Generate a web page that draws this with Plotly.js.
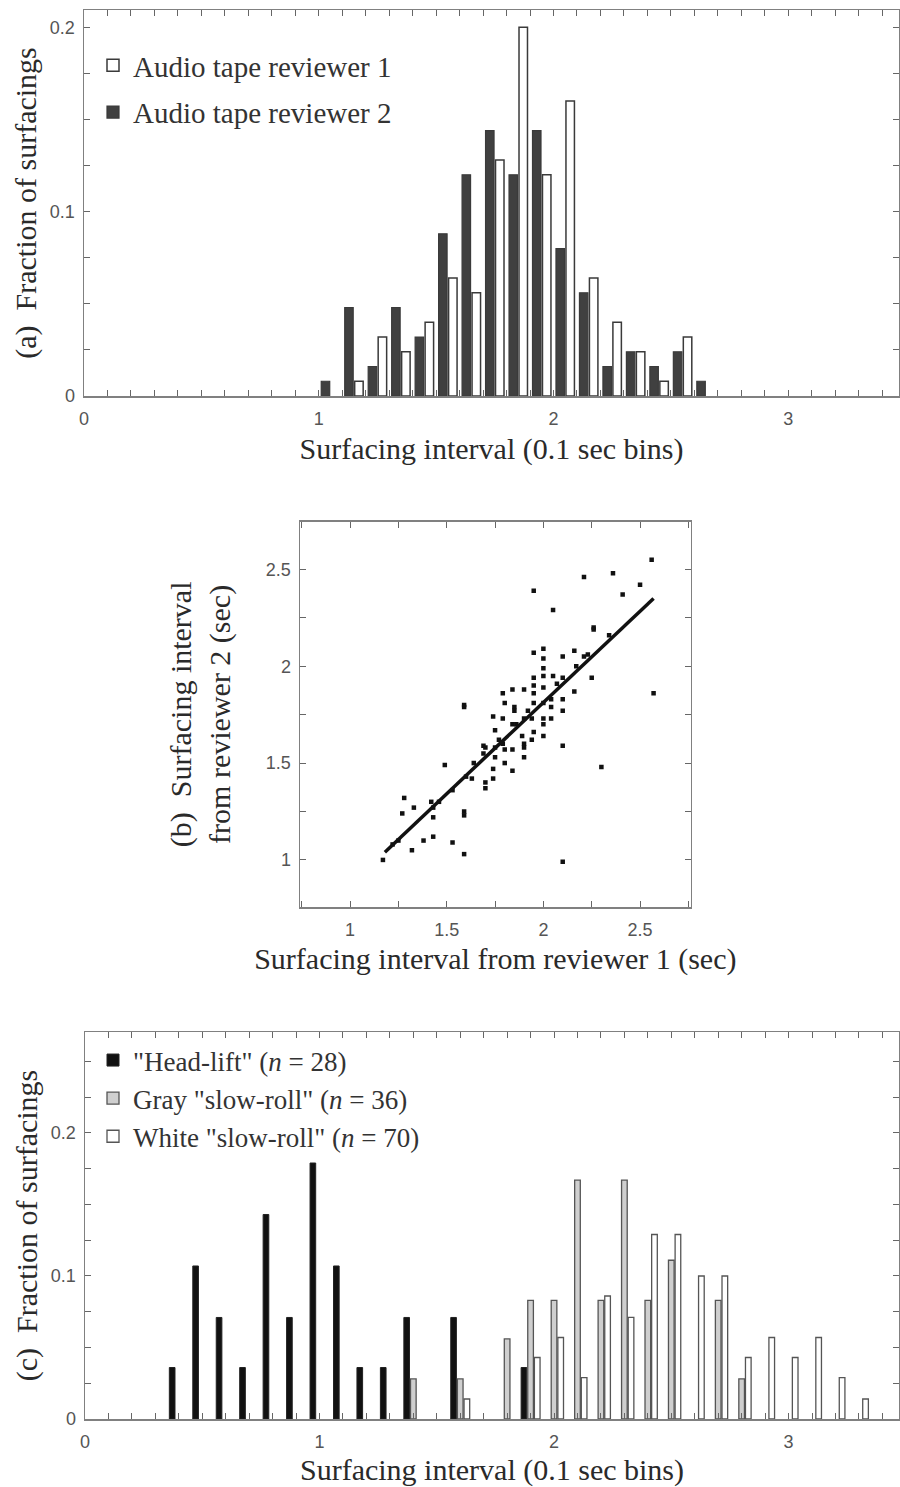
<!DOCTYPE html>
<html>
<head>
<meta charset="utf-8">
<script src="https://cdn.plot.ly/plotly-3.0.1.min.js"></script>
<style>html,body{margin:0;padding:0;background:#fff;}#chart{width:900px;height:1487px;}</style>
</head>
<body>
<div id="chart"></div>
<script>
// ---------- Panel (a): histogram of surfacing intervals, two reviewers ----------
const binsR1 = [1.15,1.25,1.35,1.45,1.55,1.65,1.75,1.85,1.95,2.05,2.15,2.25,2.35,2.45,2.55];
const fracR1 = [0.008,0.032,0.024,0.040,0.064,0.056,0.128,0.200,0.120,0.160,0.064,0.040,0.024,0.008,0.032];
const binsR2 = [1.05,1.15,1.25,1.35,1.45,1.55,1.65,1.75,1.85,1.95,2.05,2.15,2.25,2.35,2.45,2.55,2.65];
const fracR2 = [0.008,0.048,0.016,0.048,0.032,0.088,0.120,0.144,0.120,0.144,0.080,0.056,0.016,0.024,0.016,0.024,0.008];

// ---------- Panel (b): reviewer 1 vs reviewer 2 intervals (sec) ----------
const rev1 = [1.17,1.28,1.27,1.33,1.32,1.38,1.43,1.43,1.42,1.43,1.49,1.53,1.53,1.59,1.59,1.59,1.59,1.59,1.63,1.64,
              1.70,1.70,1.74,1.74,1.69,1.70,1.74,1.75,1.75,1.75,1.79,1.80,1.79,1.79,1.80,1.80,1.84,1.85,1.85,1.84,
              1.84,1.84,1.90,1.90,1.89,1.90,1.90,1.90,1.95,1.95,1.95,1.95,1.95,1.94,1.95,1.94,1.95,2.00,2.00,2.00,
              2.00,2.00,2.00,2.00,2.00,2.00,2.05,2.05,2.04,2.04,2.04,2.10,2.10,2.10,2.10,2.10,2.10,2.16,2.16,2.21,
              2.21,2.25,2.26,2.26,2.30,2.36,2.41,2.50,2.56,2.57,1.22,1.25,1.46,1.60,1.69,1.77,1.86,1.92,2.07,2.17,
              2.23,2.34];
const rev2 = [1.00,1.32,1.24,1.27,1.05,1.10,1.12,1.22,1.30,1.27,1.49,1.09,1.36,1.80,1.79,1.25,1.23,1.03,1.42,1.50,
              1.40,1.37,1.42,1.47,1.59,1.58,1.74,1.67,1.53,1.58,1.86,1.81,1.73,1.60,1.57,1.50,1.88,1.79,1.77,1.70,
              1.57,1.46,1.88,1.73,1.64,1.60,1.58,1.53,2.07,1.94,1.90,1.86,1.81,1.73,1.66,1.62,2.39,2.09,2.04,1.99,
              1.95,1.89,1.81,1.73,1.70,1.64,2.29,1.95,1.83,1.79,1.73,2.05,1.94,1.83,1.77,1.59,0.99,2.08,1.87,2.05,
              2.46,1.94,2.20,2.19,1.48,2.48,2.37,2.42,2.55,1.86,1.08,1.10,1.30,1.43,1.55,1.62,1.70,1.77,1.91,2.00,
              2.06,2.16];
// regression line end points
const fitX = [1.18, 2.57];
const fitY = [1.04, 2.35];

// ---------- Panel (c): histogram by surfacing type ----------
const binsHead = [0.4,0.5,0.6,0.7,0.8,0.9,1.0,1.1,1.2,1.3,1.4,1.6,1.9];
const fracHead = [0.036,0.107,0.071,0.036,0.143,0.071,0.179,0.107,0.036,0.036,0.071,0.071,0.036];
const binsGray = [1.4,1.6,1.8,1.9,2.0,2.1,2.2,2.3,2.4,2.5,2.7,2.8];
const fracGray = [0.028,0.028,0.056,0.083,0.083,0.167,0.083,0.167,0.083,0.111,0.083,0.028];
const binsWhite = [1.6,1.9,2.0,2.1,2.2,2.3,2.4,2.5,2.6,2.7,2.8,2.9,3.0,3.1,3.2,3.3];
const fracWhite = [0.014,0.043,0.057,0.029,0.086,0.071,0.129,0.129,0.100,0.100,0.043,0.057,0.043,0.057,0.029,0.014];

const SERIF = '"Liberation Serif", "Times New Roman", serif';
const SANS = '"Liberation Sans", Arial, sans-serif';
const edge = '#3a3a3a';

const traces = [
  {type:'bar', x:binsR2, y:fracR2, name:'Audio tape reviewer 2', xaxis:'x', yaxis:'y',
   marker:{color:'#404040', line:{color:edge, width:1.2}}, legend:'legend', legendrank:2, legendgroup:'r2'},
  {type:'bar', x:binsR1, y:fracR1, name:'Audio tape reviewer 1', xaxis:'x', yaxis:'y',
   marker:{color:'#ffffff', line:{color:edge, width:1.5}}, legend:'legend', legendrank:1, legendgroup:'r1'},
  {type:'scatter', mode:'markers', x:rev1, y:rev2, xaxis:'x2', yaxis:'y2', showlegend:false,
   marker:{color:'#111', size:4.5, symbol:'square'}},
  {type:'scatter', mode:'lines', x:fitX, y:fitY, xaxis:'x2', yaxis:'y2', showlegend:false,
   line:{color:'#111', width:3.5}},
  {type:'bar', x:binsHead, y:fracHead, name:'"Head-lift" (<i>n</i> = 28)', xaxis:'x3', yaxis:'y3',
   marker:{color:'#111111', line:{color:'#222', width:1}}, legend:'legend2'},
  {type:'bar', x:binsGray, y:fracGray, name:'Gray "slow-roll" (<i>n</i> = 36)', xaxis:'x3', yaxis:'y3',
   marker:{color:'#cfcfcf', line:{color:'#555', width:1.3}}, legend:'legend2'},
  {type:'bar', x:binsWhite, y:fracWhite, name:'White "slow-roll" (<i>n</i> = 70)', xaxis:'x3', yaxis:'y3',
   marker:{color:'#ffffff', line:{color:'#555', width:1.3}}, legend:'legend2'}
];

const axLine = '#808080';
function axisBase(extra){
  return Object.assign({
    showline:true, linecolor:axLine, linewidth:1.5, mirror:'ticks',
    ticks:'inside', ticklen:6, tickcolor:'#666', tickwidth:1,
    showgrid:false, zeroline:false, fixedrange:true,
    tickfont:{family:SANS, size:18, color:'#555'}
  }, extra);
}
const titleFont = {family:SERIF, size:30, color:'#2a2a2a'};

const H = 1487, W = 900;
const layout = {
  width:W, height:H, margin:{l:0,r:0,t:0,b:0},
  paper_bgcolor:'#fff', plot_bgcolor:'#fff',
  barmode:'group', bargap:0.15, bargroupgap:0.15,
  showlegend:true,
  xaxis: axisBase({domain:[84/W, 899/W], range:[0,3.472], anchor:'y',
    tickmode:'linear', tick0:0, dtick:1, ticklabelstandoff:6,
    minor:{dtick:0.1, tick0:0, ticks:'inside', ticklen:6, tickcolor:'#666', showgrid:false},
    title:{text:'Surfacing interval (0.1 sec bins)', font:titleFont, standoff:10}}),
  yaxis: axisBase({domain:[(H-396)/H, (H-10)/H], range:[0,0.2094], anchor:'x',
    tickmode:'linear', tick0:0, dtick:0.1, ticklabelstandoff:4,
    minor:{dtick:0.025, tick0:0, ticks:'inside', ticklen:6, tickcolor:'#666', showgrid:false},
    title:{text:'(a)\u00a0 Fraction of surfacings', font:titleFont, standoff:4}}),
  xaxis2: axisBase({domain:[300/W, 690.7/W], range:[0.741,2.762], anchor:'y2',
    tickmode:'array', tickvals:[1,1.5,2,2.5], ticktext:['1','1.5','2','2.5'], ticklabelstandoff:6,
    minor:{tickvals:[0.75,1.25,1.75,2.25,2.75], ticks:'inside', ticklen:6, tickcolor:'#666', showgrid:false},
    title:{text:'Surfacing interval from reviewer 1 (sec)', font:titleFont, standoff:9}}),
  yaxis2: axisBase({domain:[(H-907)/H, (H-521.7)/H], range:[0.757,2.746], anchor:'x2',
    tickmode:'array', tickvals:[1,1.5,2,2.5], ticktext:['1','1.5','2','2.5'], ticklabelstandoff:4,
    minor:{tickvals:[0.75,1.25,1.75,2.25,2.75], ticks:'inside', ticklen:6, tickcolor:'#666', showgrid:false},
    title:{text:'(b)\u00a0 Surfacing interval<br>from reviewer 2 (sec)', font:titleFont, standoff:26}}),
  xaxis3: axisBase({domain:[85/W, 899/W], range:[0,3.471], anchor:'y3',
    tickmode:'linear', tick0:0, dtick:1, ticklabelstandoff:6,
    minor:{dtick:0.1, tick0:0, ticks:'inside', ticklen:6, tickcolor:'#666', showgrid:false},
    title:{text:'Surfacing interval (0.1 sec bins)', font:titleFont, standoff:8}}),
  yaxis3: axisBase({domain:[(H-1419)/H, (H-1032)/H], range:[0,0.2706], anchor:'x3',
    tickmode:'linear', tick0:0, dtick:0.1, ticklabelstandoff:4,
    minor:{dtick:0.025, tick0:0, ticks:'inside', ticklen:6, tickcolor:'#666', showgrid:false},
    title:{text:'(c)\u00a0 Fraction of surfacings', font:titleFont, standoff:4}}),
  legend:{x:93/W, y:(H-40)/H, xanchor:'left', yanchor:'top', bgcolor:'rgba(0,0,0,0)',
    font:{family:SERIF, size:29, color:'#333'}, traceorder:'grouped', tracegroupgap:6, itemwidth:30},
  legend2:{x:93/W, y:(H-1036)/H, xanchor:'left', yanchor:'top', bgcolor:'rgba(0,0,0,0)',
    font:{family:SERIF, size:27, color:'#333'}, itemwidth:30}
};

Plotly.newPlot('chart', traces, layout, {displayModeBar:false, staticPlot:true});
</script>
</body>
</html>
